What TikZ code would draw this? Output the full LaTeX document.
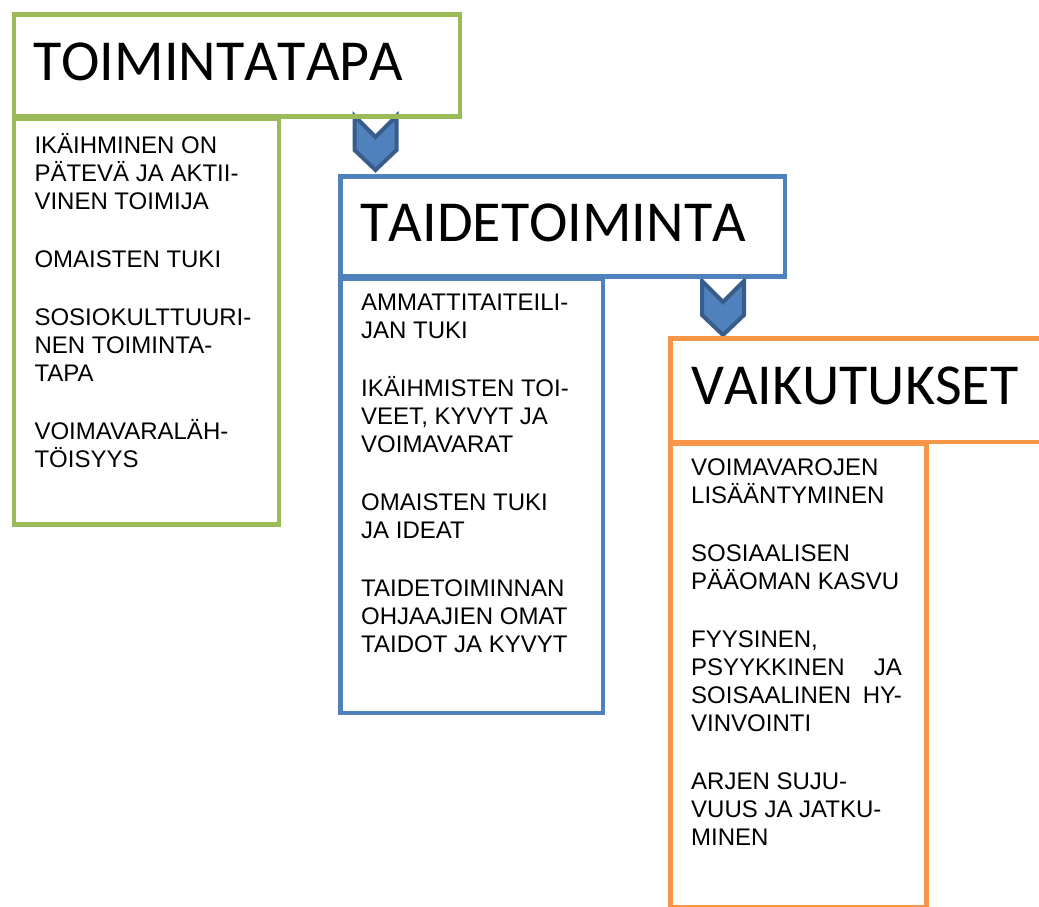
\documentclass[tikz,border=0pt]{standalone}
\usepackage{fontspec}
\setmainfont{Liberation Sans}
\newfontfamily\otsikkofont[Kerning=Off]{Carlito}
\definecolor{vihrea}{HTML}{9BBB59}
\definecolor{sininen}{HTML}{4F81BD}
\definecolor{oranssi}{HTML}{F79646}
\definecolor{tummasininen}{HTML}{385D8A}
\tikzset{
	laatikko/.style={draw, rectangle, line width=4.5pt, inner sep=0pt, anchor=north west},
	otsikko/.style={anchor=base west, inner sep=0pt, font=\otsikkofont\fontsize{58}{60}\selectfont},
	teksti/.style={anchor=base west, inner sep=0pt, align=left, font=\fontsize{24}{28}\selectfont},
	nuoli/.pic={\draw[fill=sininen, draw=tummasininen, line width=4pt, line join=miter]
		(-21,0) -- (0,21) -- (21,0) -- (21,34) -- (0,54) -- (-21,34) -- cycle;}
}

\begin{document}
\begin{tikzpicture}[x=1pt, y=-1pt]
		\useasboundingbox (0,0) rectangle (1039,907);
		\clip (0,0) rectangle (1039,907);
		% \draw[step=100] (0,0) grid (1039,907);
		\pic at (375.5,116) {nuoli};
		\pic at (723,281) {nuoli};
		\node[laatikko, draw=vihrea, minimum width=445.8pt, minimum height=101.5pt] (h1) at (11.7,12.5) {};
		\node[laatikko, draw=vihrea, minimum width=264.8pt, minimum height=406pt] (b1) at (11.7,116) {};
		\node[laatikko, draw=sininen, minimum width=444.5pt, minimum height=100pt] (h2) at (338,174) {};
		\node[laatikko, draw=sininen, minimum width=262.5pt, minimum height=434.5pt] (b2) at (338,276) {};
		\node[laatikko, draw=oranssi, minimum width=392pt, minimum height=103.5pt] (h3) at (668,336) {};
		\node[laatikko, draw=oranssi, minimum width=256pt, minimum height=463.5pt] (b3) at (668,441.5) {};
		\node[otsikko] (o1) at (33,81) {TOIMINTATAPA};
		\node[otsikko] (o2) at (360.5,241.7) {TAIDETOIMINTA};
		\node[otsikko] (o3) at (691,404) {VAIKUTUKSET};
		% tekstit sijoitetaan viimeisen rivin mukaan
		\node[teksti] (t1) at (34.3,467) {IKÄIHMINEN ON\\ PÄTEVÄ JA AKTII-\\ VINEN TOIMIJA\\[30pt]
			OMAISTEN TUKI\\[30pt]
			SOSIOKULTTUURI-\\ NEN TOIMINTA-\\ TAPA\\[30pt]
			VOIMAVARALÄH-\\ TÖISYYS};
		\node[teksti] (t2) at (361,652) {AMMATTITAITEILI-\\ JAN TUKI\\[30pt]
			IKÄIHMISTEN TOI-\\ VEET, KYVYT JA\\ VOIMAVARAT\\[30pt]
			OMAISTEN TUKI\\ JA IDEAT\\[30pt]
			TAIDETOIMINNAN\\ OHJAAJIEN OMAT\\ TAIDOT JA KYVYT};
		\node[teksti] (t3) at (691,845.5) {VOIMAVAROJEN\\ LISÄÄNTYMINEN\\[30pt]
			SOSIAALISEN\\ PÄÄOMAN KASVU\\[30pt]
			FYYSINEN,\\ \makebox[210.7pt][s]{PSYYKKINEN JA}\\ \makebox[210.7pt][s]{SOISAALINEN HY-}\\ VINVOINTI\\[30pt]
			ARJEN SUJU-\\ VUUS JA JATKU-\\ MINEN};
\end{tikzpicture}
\end{document}
